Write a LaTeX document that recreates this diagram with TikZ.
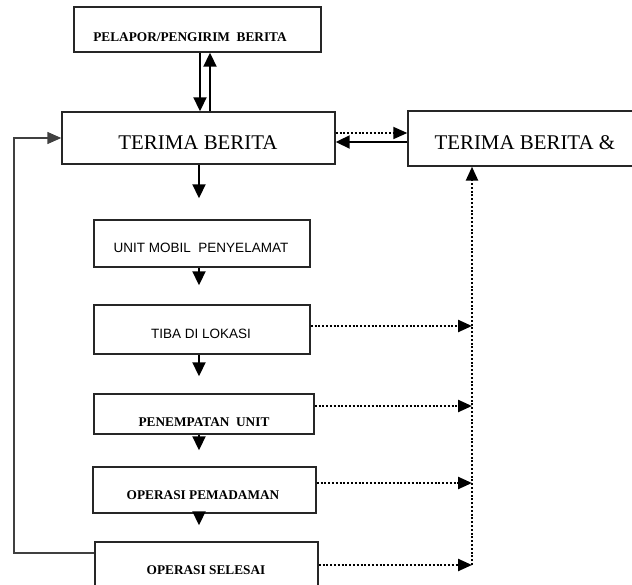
\documentclass[tikz,border=0pt]{standalone}
\usepackage{fontspec}
\setmainfont{Liberation Serif}
\setsansfont{Liberation Sans}
\usetikzlibrary{arrows.meta}

\tikzset{
  box/.style={draw=black!85, line width=1.4pt, rectangle, inner sep=0pt},
  arr/.style={line width=1.9pt, -{Triangle[length=14pt,width=13pt]}},
  dotarr/.style={line width=2.4pt, dash pattern=on 2pt off 1.8pt, -{Triangle[length=14pt,width=12pt]}},
  fb/.style={draw=black!75, line width=1.4pt, -{Triangle[length=14pt,width=12pt]}},
  bigtxt/.style={font=\fontsize{20.9}{24}\selectfont},
  boldtxt/.style={font=\fontsize{13.3}{16}\selectfont\bfseries},
  sanstxt/.style={font=\fontsize{13.5}{16}\selectfont\sffamily}
}

\begin{document}
\begin{tikzpicture}[x=1pt,y=-1pt]
\useasboundingbox (0,0) rectangle (632,585);
\clip (0,0) rectangle (632,585);

% boxes
\node[box, minimum width=247pt, minimum height=45pt] (pel) at (197.5,29.5) {};
\node[box, minimum width=273pt, minimum height=52pt] (ter) at (198.5,138) {};
\node[box, minimum width=242pt, minimum height=55pt] (ter2) at (529,138.5) {};
\node[box, minimum width=216pt, minimum height=47pt] (unit) at (202,243.5) {};
\node[box, minimum width=216pt, minimum height=49pt] (tiba) at (202,329.5) {};
\node[box, minimum width=220pt, minimum height=40pt] (pen) at (204,414) {};
\node[box, minimum width=223pt, minimum height=46pt] (opm) at (204.5,490) {};
\node[box, minimum width=223pt, minimum height=58pt] (ops) at (206.5,571) {};

% texts
\node[boldtxt] (pel-t) at (190,37) {PELAPOR/PENGIRIM\ \ BERITA};
\node[bigtxt] (ter-t) at (198,143) {TERIMA BERITA};
\node[bigtxt, anchor=west] (ter2-t) at (431,143) {TERIMA BERITA \&};
\node[sanstxt] (unit-t) at (201,248) {UNIT MOBIL\ \ PENYELAMAT};
\node[sanstxt] (tiba-t) at (201,334) {TIBA DI LOKASI};
\node[boldtxt] (pen-t) at (204,422) {PENEMPATAN\ \ UNIT};
\node[boldtxt] (opm-t) at (203,495) {OPERASI PEMADAMAN};
\node[boldtxt] (ops-t) at (206,570) {OPERASI SELESAI};

% helper coordinates
\coordinate (dn) at (200,0);
\coordinate (up) at (210,0);
\coordinate (axis) at (199,0);
\coordinate (bus) at (472,0);
\coordinate (back) at (14,138);

% pelapor <-> terima
\draw[arr] (dn |- pel.south) -- (dn |- ter.north);
\draw[arr] (up |- ter.north) -- (up |- pel.south);

% terima <-> terima berita &
\draw[dotarr, line width=1.8pt] (ter.east |- 0,133) -- (ter2.west |- 0,133);
\draw[arr] (ter2.west |- 0,142) -- (ter.east |- 0,142);

% main flow
\draw[arr, shorten >=21pt] (axis |- ter.south) -- (axis |- unit.north);
\draw[arr, shorten >=19pt] (axis |- unit.south) -- (axis |- tiba.north);
\draw[arr, shorten >=17pt] (axis |- tiba.south) -- (axis |- pen.north);
\draw[arr, shorten >=16pt] (axis |- pen.south) -- (axis |- opm.north);
\draw[arr, shorten >=16pt] (axis |- opm.south) -- (axis |- ops.north);

% reports to the right
\foreach \n/\y in {tiba/326, pen/406, opm/483, ops/565}
  \draw[dotarr] (\n.east |- 0,\y) -- (bus |- 0,\y);
\draw[dotarr] (bus |- 0,565) -- (bus |- ter2.south);

% back to start
\draw[fb] (ops.west |- 0,553) -| (back) -- (ter.west);
\end{tikzpicture}
\end{document}
